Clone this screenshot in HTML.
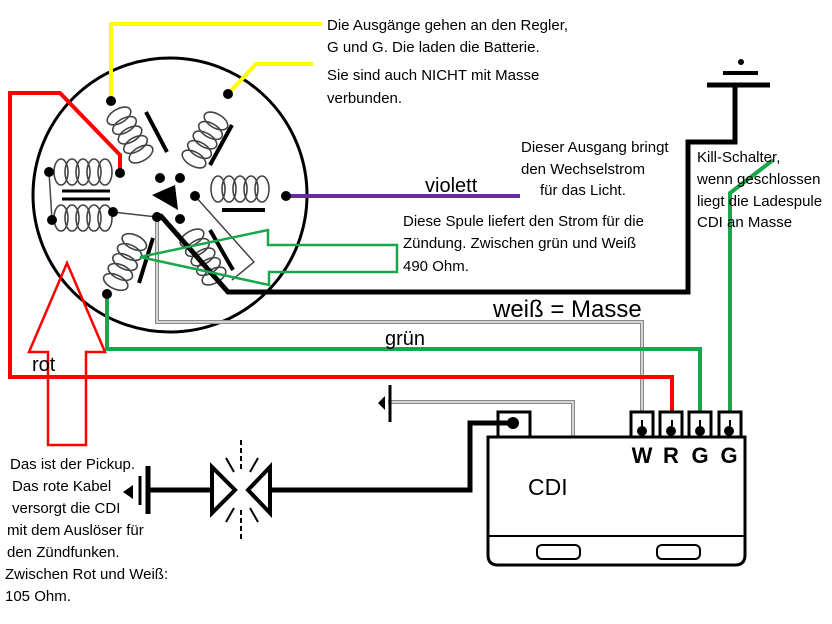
<!DOCTYPE html>
<html><head><meta charset="utf-8"><style>
html,body{margin:0;padding:0;background:#fff}
svg{display:block}
text{font-family:"Liberation Sans",sans-serif}
.t{font-size:15px;fill:#000}
</style></head><body>
<svg width="832" height="624" viewBox="0 0 832 624" xmlns="http://www.w3.org/2000/svg">
<defs>
<g id="coil" fill="none" stroke="#444" stroke-width="1.6">
<ellipse cx="-22" cy="0" rx="7" ry="13"/><ellipse cx="-11" cy="0" rx="7" ry="13"/><ellipse cx="0" cy="0" rx="7" ry="13"/><ellipse cx="11" cy="0" rx="7" ry="13"/><ellipse cx="22" cy="0" rx="7" ry="13"/>
</g>
</defs>
<rect width="832" height="624" fill="#fff"/>
<circle cx="170" cy="195" r="137" fill="none" stroke="#000" stroke-width="3"/>
<use href="#coil" transform="translate(130,135) rotate(60)"/>
<line x1="146" y1="112" x2="167" y2="152" stroke="#000" stroke-width="4"/>
<use href="#coil" transform="translate(205,140) rotate(-60)"/>
<line x1="232" y1="125" x2="210" y2="165" stroke="#000" stroke-width="4"/>
<use href="#coil" transform="translate(83,172)"/>
<use href="#coil" transform="translate(83,218)"/>
<line x1="62" y1="191" x2="110" y2="191" stroke="#000" stroke-width="3"/>
<line x1="62" y1="199" x2="110" y2="199" stroke="#000" stroke-width="3"/>
<line x1="49" y1="172" x2="52" y2="220" stroke="#444" stroke-width="1.5"/>
<use href="#coil" transform="translate(240,189)"/>
<line x1="222" y1="210" x2="265" y2="210" stroke="#000" stroke-width="4"/>
<use href="#coil" transform="translate(125,262) rotate(-65)"/>
<line x1="153" y1="238" x2="139" y2="283" stroke="#000" stroke-width="4"/>
<use href="#coil" transform="translate(203,257) rotate(60)"/>
<line x1="210" y1="230" x2="233" y2="270" stroke="#000" stroke-width="4"/>
<path d="M195,196 L254,262 L232,280" fill="none" stroke="#444" stroke-width="1.5"/>
<path d="M113,212 L157,217" fill="none" stroke="#444" stroke-width="1.5"/>
<polygon points="152,195 175,185 178,210" fill="#000"/>
<path d="M160,215 L228,292 L688,292 L688,142 L735,142 L735,85" fill="none" stroke="#000" stroke-width="5"/>
<line x1="707" y1="85" x2="770" y2="85" stroke="#000" stroke-width="5"/>
<line x1="723" y1="73" x2="758" y2="73" stroke="#000" stroke-width="4"/>
<circle cx="741" cy="62" r="3" fill="#000"/>
<path d="M157,220 L157,322 L642,322 L642,420" fill="none" stroke="#888" stroke-width="4"/>
<path d="M157,220 L157,322 L642,322 L642,420" fill="none" stroke="#eee" stroke-width="1.5"/>
<path d="M388,402 L573,402 L573,437" fill="none" stroke="#888" stroke-width="4"/>
<path d="M388,402 L573,402 L573,437" fill="none" stroke="#eee" stroke-width="1.5"/>
<line x1="390" y1="385" x2="390" y2="422" stroke="#000" stroke-width="3"/>
<polygon points="378,403 385,396 385,410" fill="#000"/>
<path d="M111,101 L111,24 L322,24" fill="none" stroke="#ff0" stroke-width="4"/>
<path d="M228,94 L256,64 L313,64" fill="none" stroke="#ff0" stroke-width="4"/>
<line x1="287" y1="196" x2="520" y2="196" stroke="#6a2a9a" stroke-width="4"/>
<path d="M120,170 L120,155 L60,93 L10,93 L10,377 L672,377 L672,420" fill="none" stroke="#f00" stroke-width="4"/>
<polygon points="67,263 105,352 86,352 86,445 48,445 48,352 29,352" fill="none" stroke="#f00" stroke-width="2.5"/>
<path d="M107,295 L107,349 L700,349 L700,420" fill="none" stroke="#1aa64a" stroke-width="4"/>
<path d="M730,420 L730,193 L773,160" fill="none" stroke="#1aa64a" stroke-width="4"/>
<polygon points="140,257 268,230 268,245 397,245 397,272 269,272 269,285" fill="none" stroke="#1aa64a" stroke-width="2.5"/>
<g fill="#000">
<circle cx="111" cy="101" r="5"/><circle cx="228" cy="94" r="5"/><circle cx="49" cy="172" r="5"/><circle cx="120" cy="173" r="5"/>
<circle cx="160" cy="178" r="5"/><circle cx="180" cy="178" r="5"/><circle cx="52" cy="220" r="5"/><circle cx="113" cy="212" r="5"/>
<circle cx="157" cy="217" r="5"/><circle cx="180" cy="219" r="5"/><circle cx="195" cy="196" r="5"/><circle cx="286" cy="196" r="5"/><circle cx="107" cy="294" r="5"/>
</g>
<path d="M488,437 L745,437 L745,555 Q745,565 735,565 L498,565 Q488,565 488,555 Z" fill="#fff" stroke="#000" stroke-width="3"/>
<line x1="489" y1="536" x2="744" y2="536" stroke="#000" stroke-width="2"/>
<rect x="537" y="545" width="43" height="14" rx="5" fill="none" stroke="#000" stroke-width="2"/>
<rect x="657" y="545" width="43" height="14" rx="5" fill="none" stroke="#000" stroke-width="2"/>
<rect x="498" y="412" width="32" height="25" fill="#fff" stroke="#000" stroke-width="3"/>
<circle cx="513" cy="423" r="6" fill="#000"/>
<g fill="#fff" stroke="#000" stroke-width="3">
<rect x="631" y="412" width="22" height="25"/><rect x="660" y="412" width="22" height="25"/><rect x="689" y="412" width="22" height="25"/><rect x="719" y="412" width="22" height="25"/>
</g>
<g fill="#000"><circle cx="642" cy="431" r="5"/><circle cx="671" cy="431" r="5"/><circle cx="700" cy="431" r="5"/><circle cx="729" cy="431" r="5"/></g>
<path d="M642,420 L642,426 M672,420 L672,426 M700,420 L700,426 M730,420 L730,426" stroke="#000" stroke-width="2"/>
<g font-size="22" font-weight="bold" text-anchor="middle">
<text x="642" y="463">W</text><text x="671" y="463">R</text><text x="700" y="463">G</text><text x="729" y="463">G</text>
</g>
<text x="528" y="495" font-size="23">CDI</text>
<path d="M513,423 L470,423 L470,490 L272,490" fill="none" stroke="#000" stroke-width="5"/>
<line x1="150" y1="490" x2="210" y2="490" stroke="#000" stroke-width="5"/>
<line x1="148" y1="466" x2="148" y2="514" stroke="#000" stroke-width="5"/>
<path d="M140,476 L140,505" stroke="#000" stroke-width="3"/>
<polygon points="123,492 133,485 133,499" fill="#000"/>
<polygon points="212,467 212,513 235,490" fill="#fff" stroke="#000" stroke-width="4"/>
<polygon points="270,467 270,513 248,490" fill="#fff" stroke="#000" stroke-width="4"/>
<g stroke="#000" stroke-width="2">
<line x1="241" y1="440" x2="241" y2="470" stroke-dasharray="5,3"/><line x1="241" y1="510" x2="241" y2="540" stroke-dasharray="5,3"/>
<line x1="226" y1="458" x2="234" y2="472"/><line x1="258" y1="458" x2="250" y2="472"/>
<line x1="226" y1="522" x2="234" y2="508"/><line x1="258" y1="522" x2="250" y2="508"/>
</g>
<text class="t" x="327" y="30">Die Ausgänge gehen an den Regler,</text>
<text class="t" x="327" y="52">G und G. Die laden die Batterie.</text>
<text class="t" x="327" y="80">Sie sind auch NICHT mit Masse</text>
<text class="t" x="327" y="103">verbunden.</text>
<text class="t" x="521" y="152">Dieser Ausgang bringt</text>
<text class="t" x="521" y="174">den Wechselstrom</text>
<text class="t" x="540" y="195">für das Licht.</text>
<text x="425" y="192" font-size="20">violett</text>
<text class="t" x="403" y="226">Diese Spule liefert den Strom für die</text>
<text class="t" x="403" y="248">Zündung. Zwischen grün und Weiß</text>
<text class="t" x="403" y="271">490 Ohm.</text>
<text class="t" x="697" y="162">Kill-Schalter,</text>
<text class="t" x="697" y="184">wenn geschlossen</text>
<text class="t" x="697" y="206">liegt die Ladespule</text>
<text class="t" x="697" y="227">CDI an Masse</text>
<text x="493" y="317" font-size="24">weiß = Masse</text>
<text x="385" y="345" font-size="20">grün</text>
<text x="32" y="371" font-size="20">rot</text>
<text class="t" x="10" y="469">Das ist der Pickup.</text>
<text class="t" x="12" y="491">Das rote Kabel</text>
<text class="t" x="12" y="513">versorgt die CDI</text>
<text class="t" x="7" y="535">mit dem Auslöser für</text>
<text class="t" x="7" y="557">den Zündfunken.</text>
<text class="t" x="5" y="579">Zwischen Rot und Weiß:</text>
<text class="t" x="5" y="601">105 Ohm.</text>
</svg>
</body></html>
